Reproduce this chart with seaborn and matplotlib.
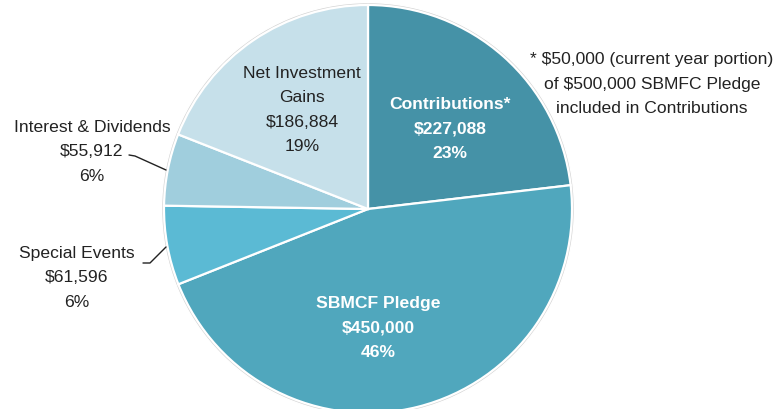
import matplotlib.pyplot as plt
import seaborn as sns

categories = ['Contributions*', 'SBMCF Pledge', 'Special Events',
              'Interest & Dividends', 'Net Investment Gains']
amounts = [227088, 450000, 61596, 55912, 186884]
percents = ['23%', '46%', '6%', '6%', '19%']
colors = ['#4592A7', '#50A7BD', '#5BBAD4', '#A0CEDD', '#C6E0EA']

sns.set_theme(style='white')
plt.rcParams['font.family'] = ['Liberation Sans', 'DejaVu Sans']

fig = plt.figure(figsize=(7.82, 4.09), dpi=100)
ax = fig.add_axes([0, 0, 1, 1])

# pie centre at pixel (368, 209), radius ~204 px
R = 204.0

# faint grey rim behind the pie
ax.pie([1], radius=1.012, colors=['#D5D5D5'], center=(0, 0), frame=True)
ax.pie(amounts, colors=colors, startangle=90, counterclock=False,
       radius=1.0, center=(0, 0), frame=True,
       wedgeprops=dict(edgecolor='white', linewidth=1.6))
ax.set_xlim(-368 / R, (782 - 368) / R)
ax.set_ylim((209 - 409) / R, 209 / R)
ax.axis('off')


def px(x, y):
    return (x - 368) / R, (209 - y) / R


fs = 12.6
ls = 1.78
dark = '#222222'
lbl = [f'${a:,}' for a in amounts]

# inside labels
ax.text(*px(450, 129), f'{categories[0]}\n{lbl[0]}\n{percents[0]}', ha='center', va='center',
        color='white', fontweight='bold', fontsize=fs, linespacing=ls)
ax.text(*px(378, 328), f'{categories[1]}\n{lbl[1]}\n{percents[1]}', ha='center', va='center',
        color='white', fontweight='bold', fontsize=fs, linespacing=ls)
ax.text(*px(302, 110), f'Net Investment\nGains\n{lbl[4]}\n{percents[4]}', ha='center', va='center',
        color=dark, fontsize=fs, linespacing=ls)

# outside labels
ax.text(*px(92, 152), f'{categories[3]}\n{lbl[3]}\n{percents[3]}', ha='center', va='center',
        color=dark, fontsize=fs, linespacing=ls)
ax.text(*px(77, 278), f'{categories[2]}\n{lbl[2]}\n{percents[2]}', ha='center', va='center',
        color=dark, fontsize=fs, linespacing=ls)

# leader lines
ax.plot(*zip(px(129, 155), px(135, 156), px(166, 170)), color=dark, lw=1)
ax.plot(*zip(px(143, 263), px(150, 263), px(166, 247)), color=dark, lw=1)

# footnote
ax.text(*px(652, 84), '* $50,000 (current year portion)\nof $500,000 SBMFC Pledge\nincluded in Contributions',
        ha='center', va='center', color=dark, fontsize=fs, linespacing=ls)

fig.savefig('out.png', dpi=100)
